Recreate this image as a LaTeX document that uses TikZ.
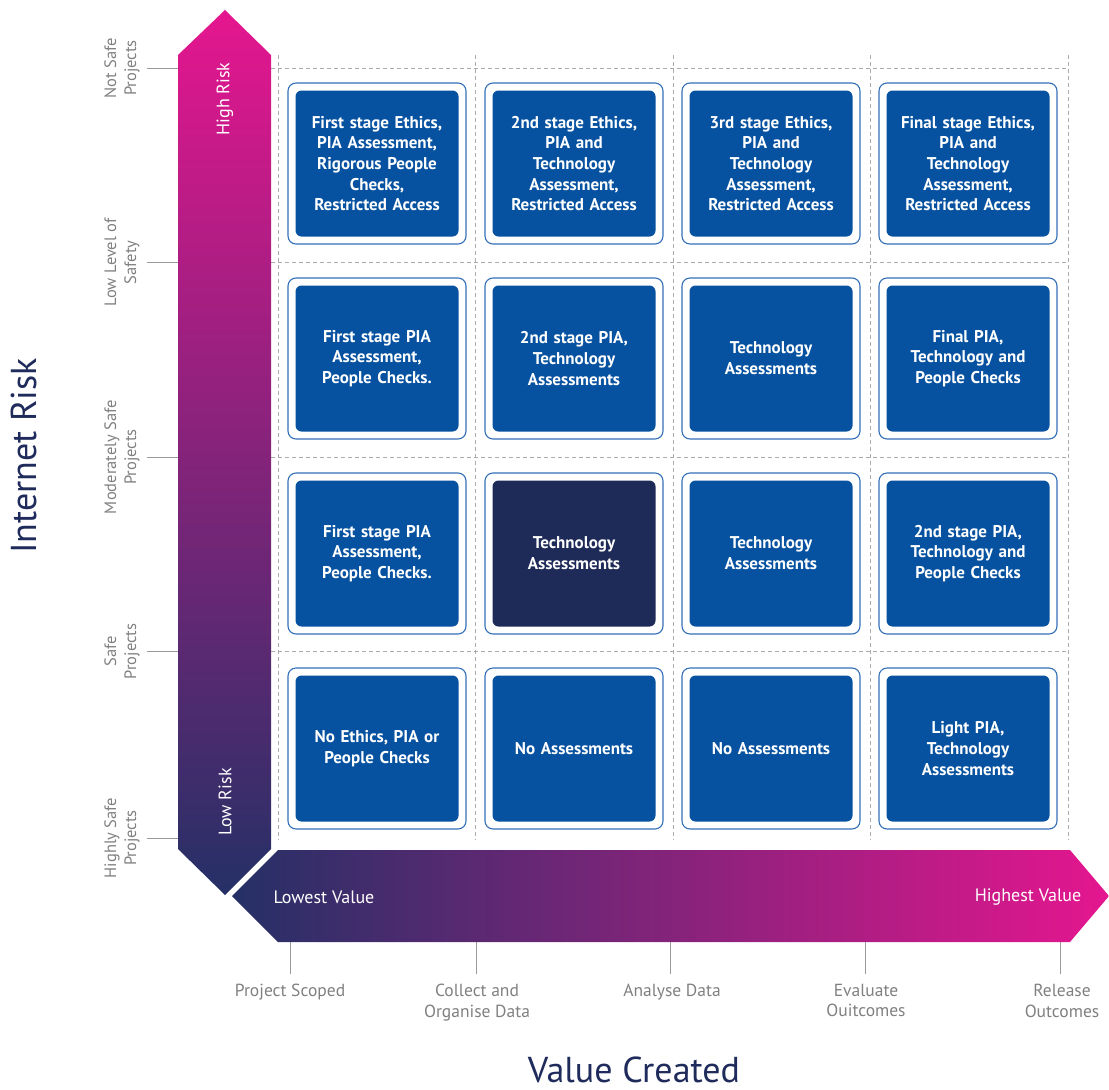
\documentclass[tikz,border=0pt]{standalone}
\usepackage{fontspec}
\setmainfont{PT Sans}
\definecolor{mag}{HTML}{E5168F}
\definecolor{navy}{HTML}{253066}
\definecolor{cellblue}{HTML}{0652A0}
\definecolor{celldark}{HTML}{1E2A57}
\definecolor{cellborder}{HTML}{3370B8}
\definecolor{titlecol}{HTML}{1F2B5B}
\definecolor{labelgray}{HTML}{808080}
\definecolor{gridgray}{HTML}{ABABAB}
\definecolor{tickgray}{HTML}{9A9A9A}
\tikzset{
  outerbox/.style={draw=cellborder, line width=1.1pt, fill=white, rounded corners=8pt,
    minimum width=178pt, minimum height=161pt, inner sep=0pt},
  innerbox/.style={fill=cellblue, rounded corners=6pt, minimum width=163pt, minimum height=146pt,
    text=white, font=\fontsize{17}{20.7}\selectfont\bfseries, align=center, text width=156pt, inner sep=0pt},
  darkcell/.style={fill=celldark},
  griddash/.style={draw=gridgray, line width=0.9pt, dash pattern=on 4pt off 3pt},
  tickline/.style={draw=tickgray, line width=1pt},
  sidelabel/.style={rotate=90, align=center, text=labelgray, inner sep=0pt,
    font=\fontsize{16.5}{20}\selectfont},
  bottomlabel/.style={anchor=north, align=center, text=labelgray, inner sep=0pt,
    font=\fontsize{17.5}{20.5}\selectfont},
  arrowlabel/.style={text=white, inner sep=0pt, font=\fontsize{18}{20}\selectfont},
  axistitle/.style={text=titlecol, inner sep=0pt, anchor=base, font=\fontsize{36}{40}\selectfont}
}
\newcommand\mkcell[5]{%
  \node[outerbox] (#1o) at (#2,#3) {};
  \node[innerbox,#4] (#1) at (#2,#3) {#5};
}
\begin{document}
\begin{tikzpicture}[x=1pt,y=-1pt]
\useasboundingbox (0,0) rectangle (1109,1090);
% grid
\foreach \gx in {278,475.5,673,870.5,1068} \draw[griddash] (\gx,55) -- (\gx,840);
\foreach \gy in {68,262.5,457,651.5} \draw[griddash] (271,\gy) -- (1068,\gy);
% ticks
\foreach \ty in {68,262.5,457,651.5,838} \draw[tickline] (147,\ty) -- (178,\ty);
\foreach \tx in {290,476,670,865,1060} \draw[tickline] (\tx,942) -- (\tx,974);
% arrows
\shade[top color=mag, bottom color=navy] (225,10) -- (271,55) -- (271,849) -- (225,895) -- (178,849) -- (178,55) -- cycle;
\shade[left color=navy, right color=mag] (232,896) -- (278,850) -- (1070,850) -- (1109,896) -- (1070,942) -- (278,942) -- cycle;
\node[arrowlabel, rotate=90] (hr) at (225,99) {High Risk};
\node[arrowlabel, rotate=90] (lr) at (225,802) {Low Risk};
\node[arrowlabel] (lv) at (324,897) {Lowest Value};
\node[arrowlabel] (hv) at (1028,897) {Highest Value};
% cells
\mkcell{a1}{377}{163.5}{}{First stage Ethics,\\PIA Assessment,\\Rigorous People\\Checks,\\Restricted Access}
\mkcell{a2}{574}{163.5}{}{2nd stage Ethics,\\PIA and\\Technology\\Assessment,\\Restricted Access}
\mkcell{a3}{771}{163.5}{}{3rd stage Ethics,\\PIA and\\Technology\\Assessment,\\Restricted Access}
\mkcell{a4}{968}{163.5}{}{Final stage Ethics,\\PIA and\\Technology\\Assessment,\\Restricted Access}
\mkcell{b1}{377}{358.5}{}{First stage PIA\\Assessment,\\People Checks.}
\mkcell{b2}{574}{358.5}{}{2nd stage PIA,\\Technology\\Assessments}
\mkcell{b3}{771}{358.5}{}{Technology\\Assessments}
\mkcell{b4}{968}{358.5}{}{Final PIA,\\Technology and\\People Checks}
\mkcell{c1}{377}{553.5}{}{First stage PIA\\Assessment,\\People Checks.}
\mkcell{c2}{574}{553.5}{darkcell}{Technology\\Assessments}
\mkcell{c3}{771}{553.5}{}{Technology\\Assessments}
\mkcell{c4}{968}{553.5}{}{2nd stage PIA,\\Technology and\\People Checks}
\mkcell{d1}{377}{748.5}{}{No Ethics, PIA or\\People Checks}
\mkcell{d2}{574}{748.5}{}{No Assessments}
\mkcell{d3}{771}{748.5}{}{No Assessments}
\mkcell{d4}{968}{748.5}{}{Light PIA,\\Technology\\Assessments}
% side labels
\node[sidelabel] (s1) at (122,68) {Not Safe\\Projects};
\node[sidelabel] (s2) at (122,262.5) {Low Level of\\Safety};
\node[sidelabel] (s3) at (122,457) {Moderately Safe\\Projects};
\node[sidelabel] (s4) at (122,651.5) {Safe\\Projects};
\node[sidelabel] (s5) at (122,838) {Highly Safe\\Projects};
% bottom labels
\node[bottomlabel] (t1) at (290,984) {Project Scoped};
\node[bottomlabel] (t2) at (477,984) {Collect and\\Organise Data};
\node[bottomlabel] (t3) at (672,984) {Analyse Data};
\node[bottomlabel] (t4) at (866,984) {Evaluate\\Ouitcomes};
\node[bottomlabel] (t5) at (1062,984) {Release\\Outcomes};
% axis titles
\node[axistitle, rotate=90] (yt) at (36,456) {Internet Risk};
\node[axistitle] (xt) at (634,1082) {Value Created};
\end{tikzpicture}
\end{document}
